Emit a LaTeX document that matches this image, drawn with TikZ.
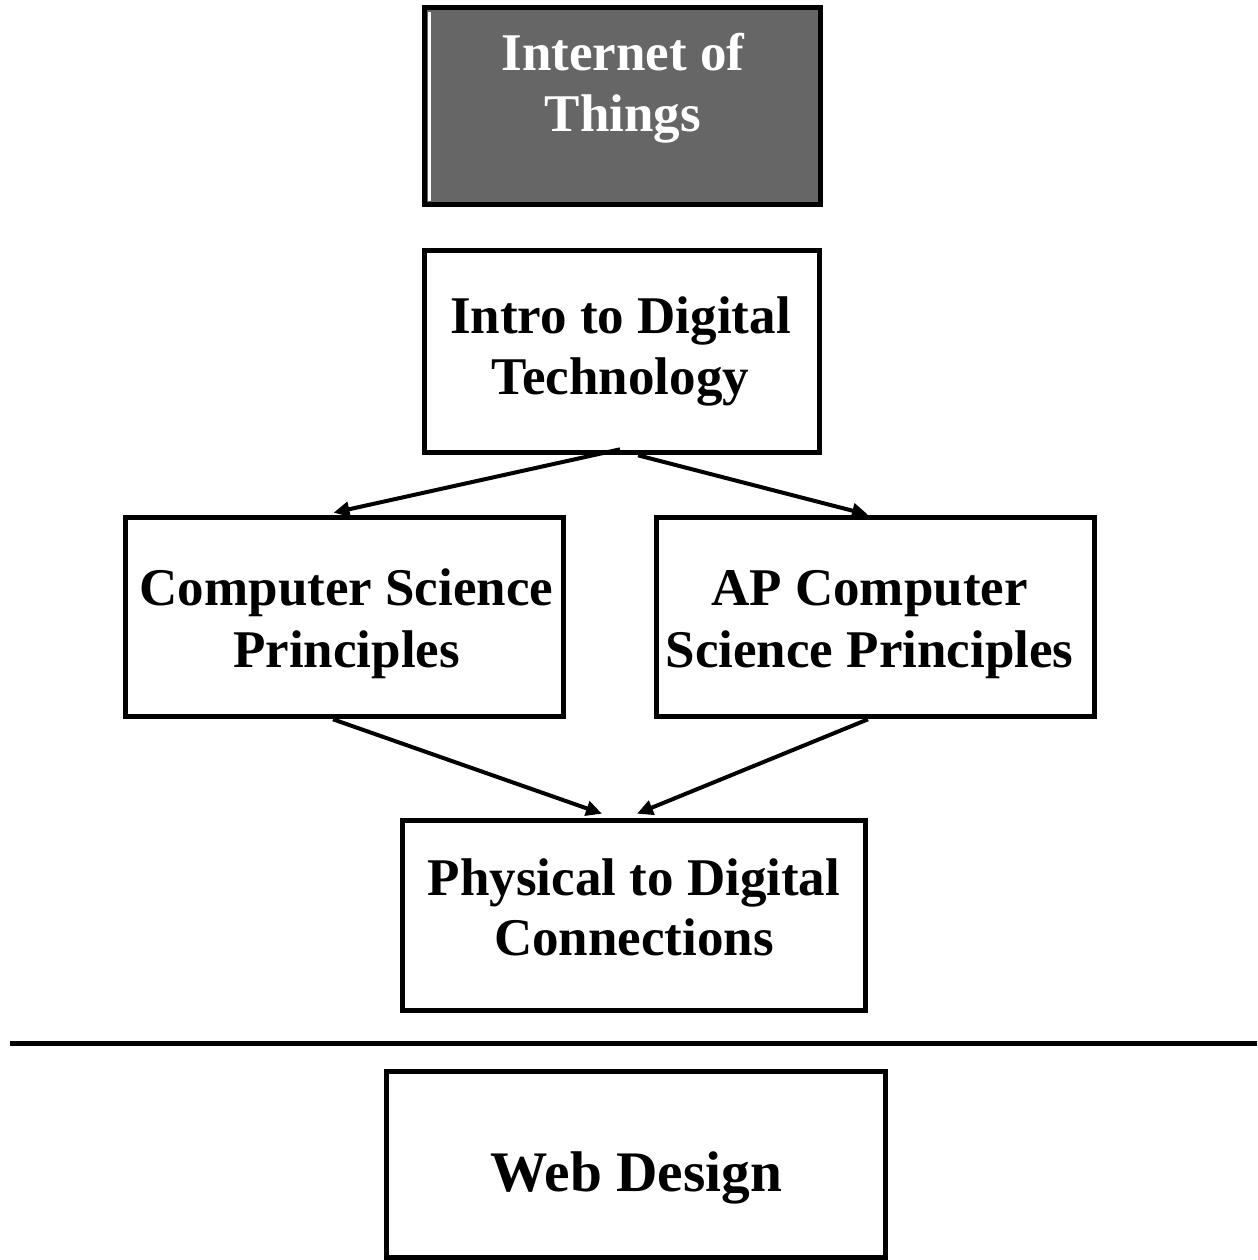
\documentclass[tikz,border=0pt]{standalone}
\usepackage{fontspec}
\setmainfont{Liberation Serif}
\usetikzlibrary{arrows.meta,fit,calc}
\definecolor{boxgray}{HTML}{666666}
\begin{document}
\begin{tikzpicture}[x=0.75pt,y=-0.75pt,
  box/.style={draw=black,line width=4.2pt,inner sep=0pt},
  lbl/.style={font=\bfseries\fontsize{39.75pt}{45.75pt}\selectfont,inner sep=0pt,anchor=base},
  biglbl/.style={font=\bfseries\fontsize{43pt}{49pt}\selectfont,inner sep=0pt,anchor=base},
  arr/.style={line width=3pt,-{Triangle[length=12pt,width=11pt]}}]
\useasboundingbox (0,0) rectangle (1257,1260);
% box extents (border centre lines)
\coordinate (iotA) at (424.5,7.5);   \coordinate (iotB) at (820.5,204.5);
\coordinate (introA) at (424.5,250.5); \coordinate (introB) at (819.5,452.5);
\coordinate (cspA) at (125.5,517.5); \coordinate (cspB) at (563.5,716.5);
\coordinate (apA) at (656.5,517.5);  \coordinate (apB) at (1094.5,716.5);
\coordinate (pdcA) at (402.5,820.5); \coordinate (pdcB) at (865.5,1010.5);
\coordinate (webA) at (386.5,1071.5); \coordinate (webB) at (885.5,1257.5);
% boxes
\node[box,fill=boxgray,fit=(iotA)(iotB)] (iot) {};
\draw[white,line width=1.8pt] (429.5,12) -- (429.5,201);
\node[box,fit=(introA)(introB)] (intro) {};
\node[box,fit=(cspA)(cspB)] (csp) {};
\node[box,fit=(apA)(apB)] (ap) {};
\node[box,fit=(pdcA)(pdcB)] (pdc) {};
\node[box,fit=(webA)(webB)] (web) {};
% texts
\node[lbl,text=white] (iotT1) at (623,70) {Internet of};
\node[lbl,text=white] (iotT2) at (623,131) {Things};
\node[lbl] (introT1) at (620.5,333) {Intro to Digital};
\node[lbl] (introT2) at (620.5,394) {Technology};
\node[lbl] (cspT1) at (346.5,605) {Computer Science};
\node[lbl] (cspT2) at (346.5,667) {Principles};
\node[lbl] (apT1) at (869.5,605) {AP Computer};
\node[lbl] (apT2) at (869.5,667) {Science Principles};
\node[lbl] (pdcT1) at (634,895) {Physical to Digital};
\node[lbl] (pdcT2) at (634,955) {Connections};
\node[biglbl] (webT) at (636.5,1191) {Web Design};
% connectors
\draw[arr] ($(intro.south)+(-2,-6)$) -- ($(csp.north)+(-11,-2)$);
\draw[arr] ($(intro.south)+(16,0)$) -- ($(ap.north)+(-7.5,0)$);
\draw[arr] ($(csp.south)+(-11.5,0)$) -- ($(pdc.north)+(-32,-4)$);
\draw[arr] ($(ap.south)+(-7.5,0)$) -- ($(pdc.north)+(3,-4)$);
% separator
\coordinate (sepL) at (10,1043.5);
\coordinate (sepR) at (1257,1043.5);
\draw[line width=4pt] (sepL) -- (sepR);
\end{tikzpicture}
\end{document}
